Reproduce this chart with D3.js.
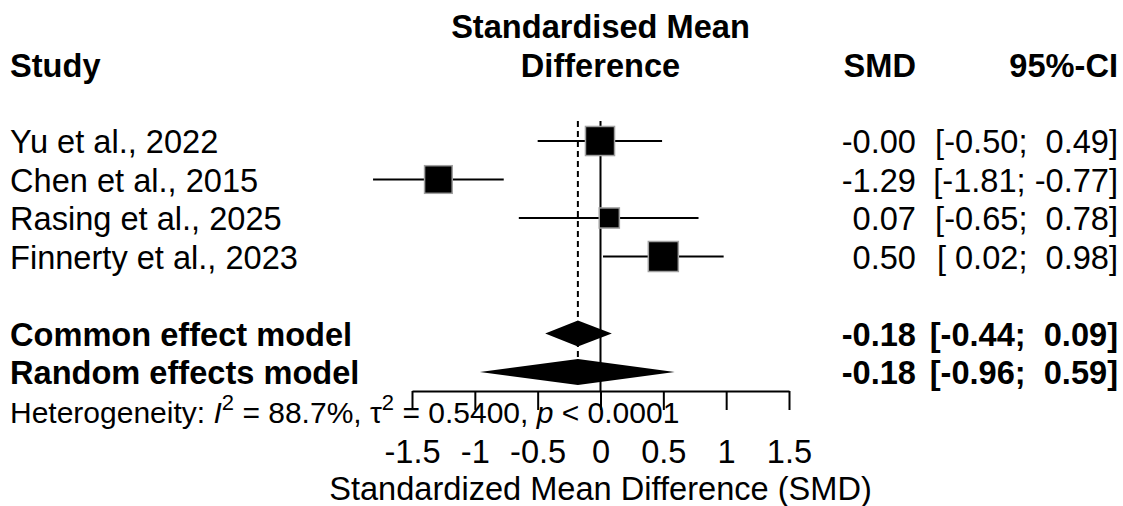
<!DOCTYPE html>
<html>
<head>
<meta charset="utf-8">
<script src="https://cdn.jsdelivr.net/npm/d3@7"></script>
<style>
  body { margin: 0; background: #fff; }
  text { font-family: "Liberation Sans", Arial, sans-serif; }
</style>
</head>
<body>
<svg></svg>
<script>
// данные исследований
const studies = ["Yu et al., 2022", "Chen et al., 2015", "Rasing et al., 2025", "Finnerty et al., 2023"];
const smd = [-0.004, -1.29, 0.07, 0.50];
const lower = [-0.50, -1.81, -0.65, 0.02];
const upper = [0.49, -0.77, 0.78, 0.98];
const weights = [29.0, 26.2, 13.9, 30.9];

// итоговые модели
const models = ["Common effect model", "Random effects model"];
const modelSmd = [-0.18, -0.18];
const modelLower = [-0.44, -0.96];
const modelUpper = [0.09, 0.59];

const ticks = [-1.5, -1, -0.5, 0, 0.5, 1, 1.5];

document.addEventListener("DOMContentLoaded", function() {
    const width = 1123;
    const height = 506;
    const fs = 32.6;
    const svg = d3.select("svg")
        .attr("width", width)
        .attr("height", height);

    const x = d3.scaleLinear().domain([-1.5, 1.5]).range([412, 789]);
    const y = d3.scaleLinear().domain([0, 6]).range([141, 372]);
    const size = d3.scaleSqrt().domain([0, d3.max(weights)]).range([0, 30]);

    // неразрывные пробелы, чтобы выравнивание не схлопывалось
    const sp = "\u00a0";
    const fmt = v => v.toFixed(2);
    const pad = v => (v < 0 ? "" : sp) + fmt(v);
    const ci = (lo, hi) => `[${pad(lo)};${sp}${pad(hi)}]`;

    // заголовки
    const head = svg.append("g").attr("font-size", fs).attr("font-weight", "bold");
    head.append("text").attr("x", 10).attr("y", 77).text("Study");
    head.append("text").attr("x", x(0)).attr("y", 38).attr("text-anchor", "middle").text("Standardised Mean");
    head.append("text").attr("x", x(0)).attr("y", 77).attr("text-anchor", "middle").text("Difference");
    head.append("text").attr("x", 916).attr("y", 77).attr("text-anchor", "end").text("SMD");
    head.append("text").attr("x", 1118).attr("y", 77).attr("text-anchor", "end").text("95%-CI");

    // линии нуля и общего эффекта
    svg.append("line")
        .attr("x1", x(modelSmd[0])).attr("x2", x(modelSmd[0]))
        .attr("y1", 121).attr("y2", 360)
        .attr("stroke", "#000").attr("stroke-width", 2)
        .attr("stroke-dasharray", "6,4");
    svg.append("line")
        .attr("x1", x(0)).attr("x2", x(0))
        .attr("y1", 121).attr("y2", 391)
        .attr("stroke", "#000").attr("stroke-width", 2);

    // исследования
    const rows = svg.append("g").selectAll("g")
        .data(studies)
        .join("g");

    rows.append("line")
        .attr("x1", (d, i) => x(lower[i]))
        .attr("x2", (d, i) => x(upper[i]))
        .attr("y1", (d, i) => y(i))
        .attr("y2", (d, i) => y(i))
        .attr("stroke", "#000").attr("stroke-width", 2);

    rows.append("rect")
        .attr("x", (d, i) => x(smd[i]) - size(weights[i]) / 2)
        .attr("y", (d, i) => y(i) - size(weights[i]) / 2)
        .attr("width", (d, i) => size(weights[i]))
        .attr("height", (d, i) => size(weights[i]))
        .attr("fill", "#000")
        .attr("stroke", "#a0a0a0").attr("stroke-width", 1.5);

    const txt = svg.append("g").attr("font-size", fs);
    studies.forEach((s, i) => {
        txt.append("text").attr("x", 10).attr("y", y(i) + 12).text(s);
        txt.append("text").attr("x", 916).attr("y", y(i) + 12).attr("text-anchor", "end").text(fmt(smd[i]));
        txt.append("text").attr("x", 1118).attr("y", y(i) + 12).attr("text-anchor", "end").text(ci(lower[i], upper[i]));
    });

    // ромбы моделей
    models.forEach((m, j) => {
        const cy = y(5 + j);
        svg.append("path")
            .attr("d", d3.line()([
                [x(modelLower[j]), cy],
                [x(modelSmd[j]), cy - 13],
                [x(modelUpper[j]), cy],
                [x(modelSmd[j]), cy + 13]
            ]) + "Z")
            .attr("fill", "#000");
        const g = svg.append("g").attr("font-size", fs).attr("font-weight", "bold");
        g.append("text").attr("x", 10).attr("y", cy + 12).text(m);
        g.append("text").attr("x", 916).attr("y", cy + 12).attr("text-anchor", "end").text(fmt(modelSmd[j]));
        g.append("text").attr("x", 1118).attr("y", cy + 12).attr("text-anchor", "end").text(ci(modelLower[j], modelUpper[j]));
    });

    // ось
    const axis = d3.axisBottom(x)
        .tickValues(ticks)
        .tickFormat(d => String(d))
        .tickSize(19)
        .tickSizeOuter(0)
        .tickPadding(30);
    const ax = svg.append("g")
        .attr("transform", "translate(0,391)")
        .call(axis);
    ax.select(".domain").attr("stroke-width", 2);
    ax.selectAll(".tick line").attr("stroke-width", 2);
    ax.selectAll(".tick text")
        .attr("font-size", fs)
        .attr("font-family", "Liberation Sans, Arial, sans-serif")
        .attr("fill", "#000");

    svg.append("text")
        .attr("x", x(0)).attr("y", 500)
        .attr("text-anchor", "middle")
        .attr("font-size", fs)
        .text("Standardized Mean Difference (SMD)");

    // гетерогенность
    const het = svg.append("text")
        .attr("x", 10).attr("y", 423)
        .attr("font-size", 30);
    het.append("tspan").text("Heterogeneity: ");
    het.append("tspan").attr("font-style", "italic").text("I");
    het.append("tspan").attr("dy", -13).attr("font-size", 22).text("2");
    het.append("tspan").attr("dy", 13).text(" = 88.7%, \u03c4");
    het.append("tspan").attr("dy", -13).attr("font-size", 22).text("2");
    het.append("tspan").attr("dy", 13).text(" = 0.5400, ");
    het.append("tspan").attr("font-style", "italic").text("p");
    het.append("tspan").text(" < 0.0001");
})
</script>
</body>
</html>
